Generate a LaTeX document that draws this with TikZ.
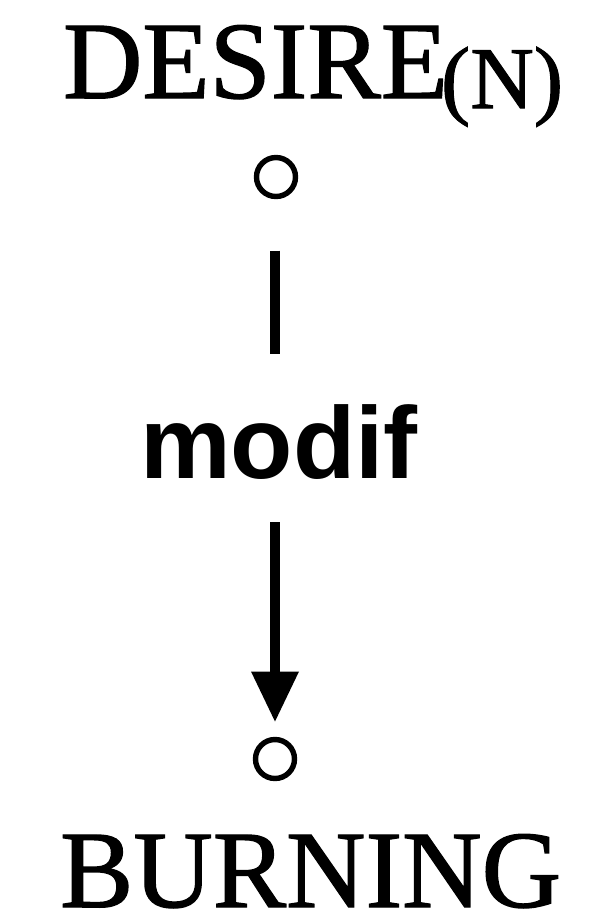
\documentclass[tikz,border=0pt]{standalone}
\usepackage{fontspec}
\setmainfont{Liberation Serif}
\setsansfont{Liberation Sans}
\newfontfamily\wordfont{Liberation Serif}[FakeBold=1.2]
\usetikzlibrary{arrows.meta,calc}
\begin{document}
\begin{tikzpicture}[x=0.5pt,y=-0.5pt,
  word/.style={inner sep=0pt,outer sep=0pt,font=\wordfont\fontsize{55pt}{60pt}\selectfont},
  subword/.style={inner sep=0pt,outer sep=0pt,font=\wordfont\fontsize{44pt}{48pt}\selectfont},
  rel/.style={inner sep=0pt,outer sep=0pt,font=\sffamily\bfseries\fontsize{51pt}{56pt}\selectfont},
  port/.style={circle,draw,line width=2.7pt,minimum size=19.5pt,inner sep=0pt,outer sep=0pt},
  link/.style={line width=4.75pt},
  dep/.style={line width=4.75pt,-{Triangle[width=24pt,length=25pt,line width=0pt]}}]
  \useasboundingbox (0,0) rectangle (600,918);

  % governor with its category
  \node[word,anchor=base west] (gov) at (63,98) {DESIRE};
  \node[subword,anchor=base west] (cat) at (441,108) {(N)};
  \node[port] (c1) at (276,177) {};

  % relation label
  \node[rel,anchor=base] (modif) at (279,478) {modif};

  % dependent
  \node[port] (c2) at (275,759) {};
  \node[word,anchor=base west] (dep) at (60,907) {BURNING};

  % plain link from the governor down to the label
  \coordinate (l1) at ($(c1.south -| c2)+(0,54)$);
  \draw[link,shorten >=25pt] (l1) -- (l1 |- modif.north);
  % arrow from the label to the dependent
  \draw[dep,shorten <=21.5pt,shorten >=9pt] (modif.south -| c2) -- (c2.north);
\end{tikzpicture}
\end{document}
